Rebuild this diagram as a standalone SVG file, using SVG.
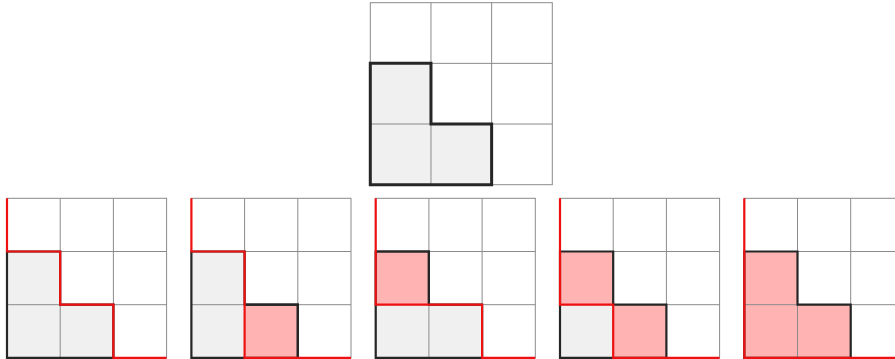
<svg xmlns="http://www.w3.org/2000/svg" width="895" height="359" viewBox="0 0 895 359">
<style>
.bg{fill:#ffffff}
.gl{fill:none;stroke:#8a8a8a;stroke-width:1}
.cellg{fill:#f0f0f0}
.cellp{fill:#ffb3b3}
.ol{fill:none;stroke:#262626;stroke-width:2.2;stroke-linejoin:miter}
.olt{fill:none;stroke:#262626;stroke-width:3;stroke-linejoin:miter}
.rp{fill:none;stroke:#ee1111;stroke-width:2.2;stroke-linejoin:miter}
</style>
<defs>
<g id="bgrid">
<rect class="bg" x="0" y="0" width="159.6" height="159.6"/>
<rect class="cellg" x="0" y="53.2" width="53.2" height="106.4"/>
<rect class="cellg" x="53.2" y="106.4" width="53.2" height="53.2"/>
</g>
<g id="blines">
<rect class="gl" x="0" y="0" width="159.6" height="159.6"/>
<path class="gl" d="M53.2,0V159.6M106.4,0V159.6M0,53.2H159.6M0,106.4H159.6"/>
<path class="ol" d="M0,53.2H53.2V106.4H106.4V159.6H0Z"/>
</g>
</defs>
<rect x="0" y="0" width="895" height="359" fill="#ffffff"/>
<g id="top" transform="translate(370.3,2.7)">
<rect class="bg" x="0" y="0" width="182" height="182"/>
<rect class="cellg" x="0" y="60.67" width="60.67" height="121.33"/>
<rect class="cellg" x="60.67" y="121.33" width="60.67" height="60.67"/>
<rect class="gl" x="0" y="0" width="182" height="182"/>
<path class="gl" d="M60.67,0V182M121.33,0V182M0,60.67H182M0,121.33H182"/>
<path class="olt" d="M0,60.67H60.67V121.33H121.33V182H0Z"/>
</g>
<g id="g1" transform="translate(7,198.3)">
<use href="#bgrid"/>
<use href="#blines"/>
<path class="rp" d="M0,0V53.2H53.2V106.4H106.4V159.6H159.6"/>
</g>
<g id="g2" transform="translate(191.4,198.3)">
<use href="#bgrid"/>
<rect class="cellp" x="53.2" y="106.4" width="53.2" height="53.2"/>
<use href="#blines"/>
<path class="ol" d="M53.2,106.4H106.4V159.6"/>
<path class="rp" d="M0,0V53.2H53.2V159.6H159.6"/>
</g>
<g id="g3" transform="translate(375.7,198.3)">
<use href="#bgrid"/>
<rect class="cellp" x="0" y="53.2" width="53.2" height="53.2"/>
<use href="#blines"/>
<path class="ol" d="M0,53.2H53.2V106.4"/>
<path class="rp" d="M0,0V106.4H106.4V159.6H159.6"/>
</g>
<g id="g4" transform="translate(560,198.3)">
<use href="#bgrid"/>
<rect class="cellp" x="0" y="53.2" width="53.2" height="53.2"/>
<rect class="cellp" x="53.2" y="106.4" width="53.2" height="53.2"/>
<use href="#blines"/>
<path class="rp" d="M0,0V106.4H53.2V159.6H159.6"/>
</g>
<g id="g5" transform="translate(744.3,198.3)">
<use href="#bgrid"/>
<rect class="cellp" x="0" y="53.2" width="53.2" height="106.4"/>
<rect class="cellp" x="53.2" y="106.4" width="53.2" height="53.2"/>
<use href="#blines"/>
<path class="rp" d="M0,0V159.6H159.6"/>
</g>
<g id="connectors"></g>
</svg>
